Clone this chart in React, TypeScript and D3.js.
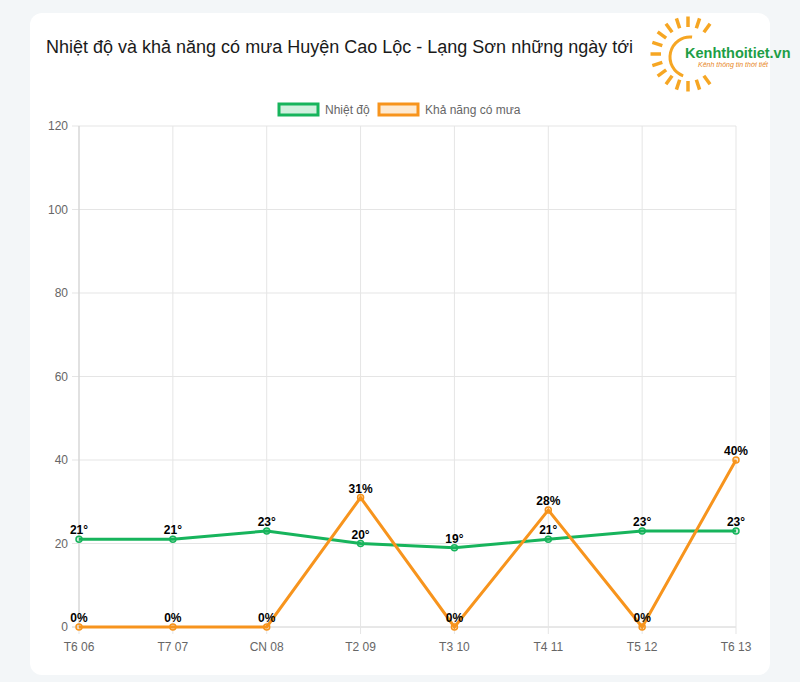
import React from "react";
import * as d3 from "d3";

const categories = ["T6 06", "T7 07", "CN 08", "T2 09", "T3 10", "T4 11", "T5 12", "T6 13"];
const temperature = [21, 21, 23, 20, 19, 21, 23, 23];
const rainChance = [0, 0, 0, 31, 0, 28, 0, 40];
const yTicks = [0, 20, 40, 60, 80, 100, 120];
const seriesNames = ["Nhiệt độ", "Khả năng có mưa"];

const GREEN = "#17b45c";
const ORANGE = "#f7941d";

export default function App() {
  const W = 800, H = 682;
  const x = d3.scalePoint<string>().domain(categories).range([79, 736]);
  const y = d3.scaleLinear().domain([0, 120]).range([627, 126]);
  const line = d3.line<number>().x((_, i) => x(categories[i])!).y((d) => y(d));
  const font = "Arial, 'Liberation Sans', Helvetica, sans-serif";

  const cx = 688, cy = 54;
  const rays = d3.range(15).map((k) => ((-54 - 18 * k) * Math.PI) / 180);
  const arcPath = d3.arc()({
    innerRadius: 18.5,
    outerRadius: 21.5,
    startAngle: (200 * Math.PI) / 180,
    endAngle: (366 * Math.PI) / 180,
  }) || "";
  return (
    <svg width={W} height={H} style={{ position: "absolute", left: 0, top: 0 }} fontFamily={font}>
      <rect x={0} y={0} width={W} height={H} fill="#f3f6f8" />
      <rect x={30} y={13} width={740} height={662} rx={12} fill="#ffffff" />
      <text x={46} y={53} fontSize={18} fill="#1a1a1a">
        Nhiệt độ và khả năng có mưa Huyện Cao Lộc - Lạng Sơn những ngày tới
      </text>

      {/* logo */}
      <g>
        {rays.map((t, i) => (
          <line key={i}
            x1={cx + 27 * Math.cos(t)} y1={cy + 27 * Math.sin(t)}
            x2={cx + 37.5 * Math.cos(t)} y2={cy + 37.5 * Math.sin(t)}
            stroke="#f6a623" strokeWidth={3.5} />
        ))}
        <path d={arcPath} transform={`translate(${690},${57})`} fill="#f6a623" />
        <text x={685} y={58} fontSize={14.5} fontWeight="bold" fill="#1e9e46">Kenhthoitiet.vn</text>
        <text x={698} y={66.5} fontSize={7} fontStyle="italic" fill="#e8871e">Kênh thông tin thời tiết</text>
      </g>

      {/* legend */}
      <rect x={279} y={104} width={39} height={11} fill="rgba(23,180,92,0.2)" stroke={GREEN} strokeWidth={3} />
      <text x={325} y={114} fontSize={12} fill="#666">{seriesNames[0]}</text>
      <rect x={379} y={104} width={39} height={11} fill="rgba(247,148,29,0.2)" stroke={ORANGE} strokeWidth={3} />
      <text x={425} y={114} fontSize={12} fill="#666">{seriesNames[1]}</text>

      {/* grid */}
      {yTicks.map((t) => (
        <g key={t}>
          <line x1={72} x2={736} y1={y(t)} y2={y(t)} stroke={t === 0 ? "#d0d0d0" : "#e5e5e5"} strokeWidth={1} />
          <text x={68} y={y(t) + 4} fontSize={12} fill="#666" textAnchor="end">{t}</text>
        </g>
      ))}
      {categories.map((c) => (
        <g key={c}>
          <line x1={x(c)} x2={x(c)} y1={126} y2={634} stroke="#e5e5e5" strokeWidth={1} />
          <text x={x(c)} y={651} fontSize={12} fill="#666" textAnchor="middle">{c}</text>
        </g>
      ))}
      <line x1={79} x2={79} y1={126} y2={627} stroke="#d0d0d0" />

      {/* series */}
      <path d={line(temperature) || ""} fill="none" stroke={GREEN} strokeWidth={3} />
      <path d={line(rainChance) || ""} fill="none" stroke={ORANGE} strokeWidth={3} />
      {temperature.map((v, i) => (
        <g key={"t" + i}>
          <circle cx={x(categories[i])} cy={y(v)} r={3} fill="rgba(23,180,92,0.2)" stroke={GREEN} strokeWidth={1.5} />
          <text x={x(categories[i])} y={y(v) - 5} fontSize={12} fontWeight="bold" fill="#000" textAnchor="middle">{v}°</text>
        </g>
      ))}
      {rainChance.map((v, i) => (
        <g key={"r" + i}>
          <circle cx={x(categories[i])} cy={y(v)} r={3} fill="rgba(247,148,29,0.2)" stroke={ORANGE} strokeWidth={1.5} />
          <text x={x(categories[i])} y={y(v) - 5} fontSize={12} fontWeight="bold" fill="#000" textAnchor="middle">{v}%</text>
        </g>
      ))}
    </svg>
  );
}
